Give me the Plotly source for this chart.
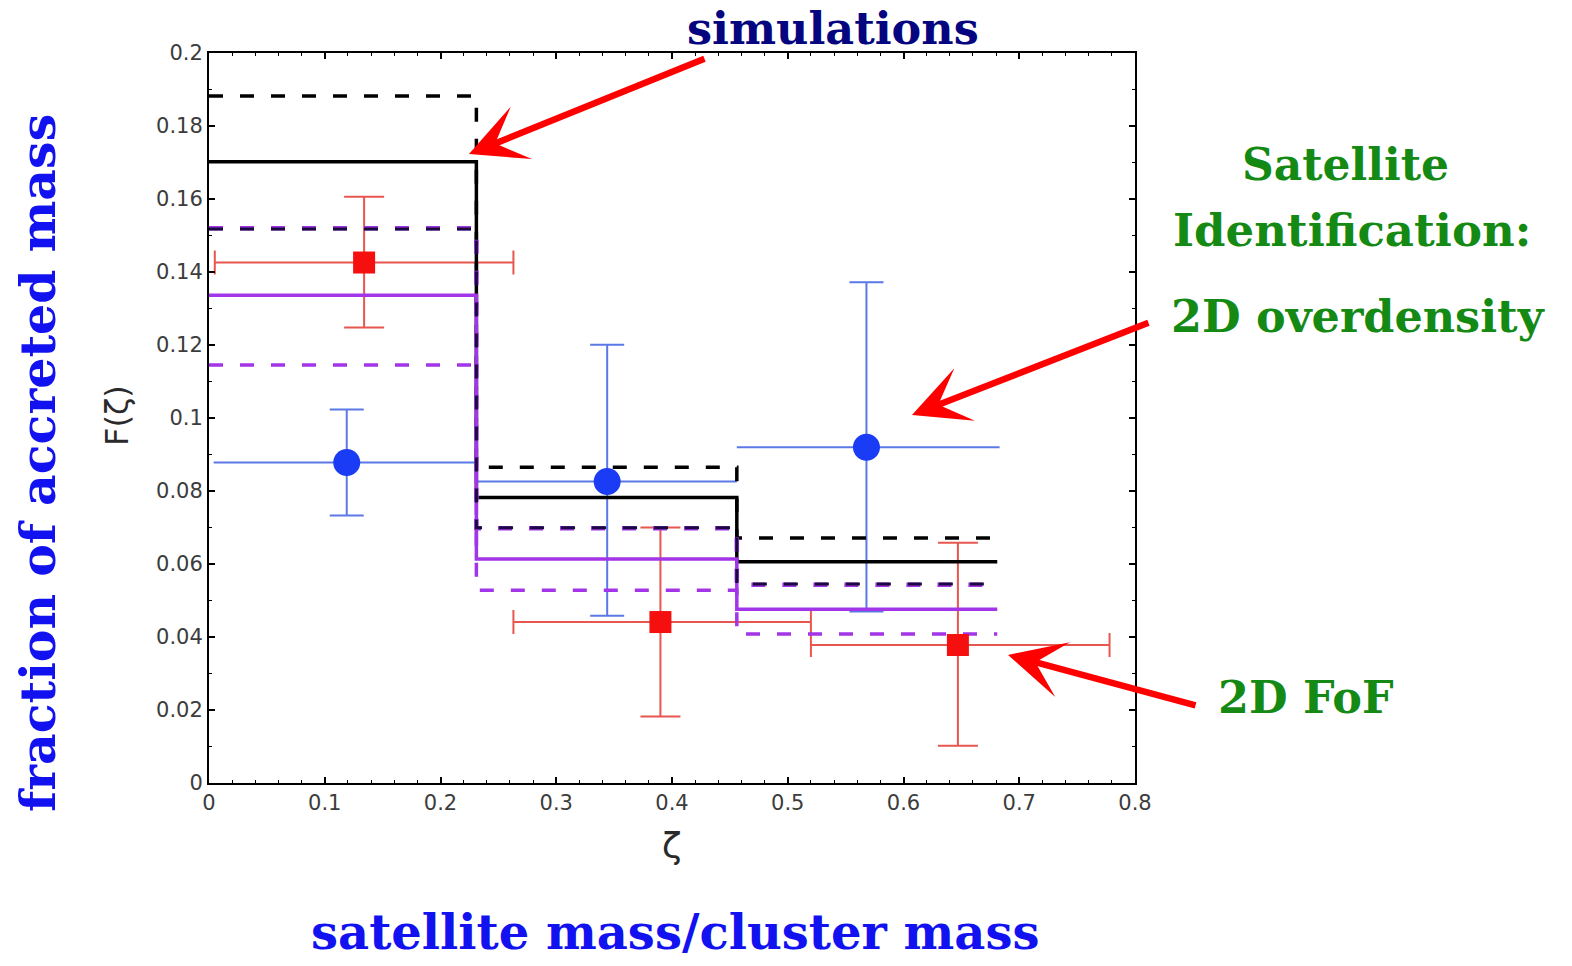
import plotly.graph_objects as go

# Bin edges in zeta (satellite mass / cluster mass)
bin_edges = [0.0, 0.231, 0.456, 0.681]

# Simulation histograms (black: mean, upper, lower)
sim_mean = [0.1702, 0.0782, 0.0606]
sim_upper = [0.1882, 0.0865, 0.0671]
sim_lower = [0.1518, 0.0699, 0.0545]

# Projected simulation histograms (purple: mean, upper, lower)
proj_mean = [0.1336, 0.0614, 0.0476]
proj_upper = [0.1520, 0.0698, 0.0543]
proj_lower = [0.1145, 0.0528, 0.0408]

# 2D overdensity identification (blue circles)
od_x = [0.119, 0.344, 0.568]
od_y = [0.0878, 0.0826, 0.0920]
od_y_hi = [0.1023, 0.1201, 0.1372]
od_y_lo = [0.0733, 0.0458, 0.0470]
od_x_lo = [0.004, 0.231, 0.456]
od_x_hi = [0.231, 0.456, 0.683]

# 2D FoF identification (red squares)
fof_x = [0.134, 0.390, 0.647]
fof_y = [0.1426, 0.0441, 0.0378]
fof_y_hi = [0.1606, 0.0700, 0.0658]
fof_y_lo = [0.1248, 0.0182, 0.0102]
fof_x_lo = [0.005, 0.263, 0.520]
fof_x_hi = [0.263, 0.520, 0.778]

x_ticks = [0, 0.1, 0.2, 0.3, 0.4, 0.5, 0.6, 0.7, 0.8]
x_ticktext = ["0", "0.1", "0.2", "0.3", "0.4", "0.5", "0.6", "0.7", "0.8"]
y_ticks = [0, 0.02, 0.04, 0.06, 0.08, 0.1, 0.12, 0.14, 0.16, 0.18, 0.2]
y_ticktext = ["0", "0.02", "0.04", "0.06", "0.08", "0.1", "0.12", "0.14", "0.16", "0.18", "0.2"]

BLACK = "#000000"
PURPLE = "#a235e8"
BLUE_ERR = "#5b78e6"
BLUE_PT = "#1a3cf5"
RED_ERR = "#e8574f"
RED_PT = "#f50f0f"
DASH = "14px,17px"

fig = go.Figure()


def err(center, lo, hi):
    plus = [h - c for c, h in zip(center, hi)]
    minus = [c - l for c, l in zip(center, lo)]
    return plus, minus


# error bars first (drawn beneath the histogram lines)
for xs, ys, xlo, xhi, ylo, yhi, col, capy, capx in [
    (od_x, od_y, od_x_lo, od_x_hi, od_y_lo, od_y_hi, BLUE_ERR, 17, 0),
    (fof_x, fof_y, fof_x_lo, fof_x_hi, fof_y_lo, fof_y_hi, RED_ERR, 20, 12),
]:
    ex_p, ex_m = err(xs, xlo, xhi)
    ey_p, ey_m = err(ys, ylo, yhi)
    fig.add_trace(go.Scatter(
        x=xs, y=ys, mode="markers",
        marker=dict(size=1, color="rgba(0,0,0,0)"),
        error_x=dict(type="data", symmetric=False, array=ex_p, arrayminus=ex_m,
                     color=col, thickness=2, width=capx),
        error_y=dict(type="data", symmetric=False, array=ey_p, arrayminus=ey_m,
                     color=col, thickness=2, width=capy),
        showlegend=False, hoverinfo="skip",
    ))


def step(vals, color, width, dash=None):
    xs = list(bin_edges)
    ys = list(vals) + [vals[-1]]
    fig.add_trace(go.Scatter(
        x=xs, y=ys, mode="lines", line_shape="hv",
        line=dict(color=color, width=width, dash=dash if dash else "solid"),
        showlegend=False, hoverinfo="skip",
    ))


step(sim_mean, BLACK, 3.5)
step(sim_upper, BLACK, 3.5, DASH)
step(proj_mean, PURPLE, 3.5)
step(proj_lower, PURPLE, 3.5, DASH)
step(proj_upper, PURPLE, 4.5, DASH)
step(sim_lower, "#1a0a40", 3, DASH)

# data points on top
fig.add_trace(go.Scatter(
    x=od_x, y=od_y, mode="markers",
    marker=dict(symbol="circle", size=27, color=BLUE_PT, line=dict(width=0)),
    showlegend=False, hoverinfo="skip",
))
fig.add_trace(go.Scatter(
    x=fof_x, y=fof_y, mode="markers",
    marker=dict(symbol="square", size=22, color=RED_PT, line=dict(width=0)),
    showlegend=False, hoverinfo="skip",
))

axis_common = dict(
    showgrid=False, zeroline=False,
    showline=True, linecolor="black", linewidth=2, mirror="ticks",
    ticks="inside", ticklen=6, tickwidth=1.5, tickcolor="black",
    tickfont=dict(family="DejaVu Sans", size=21, color="#3c3c3c"),
)

fig.update_xaxes(
    range=[0, 0.8], tickvals=x_ticks, ticktext=x_ticktext,
    minor=dict(dtick=0.02, ticks="inside", ticklen=3, tickwidth=1, tickcolor="black"),
    **axis_common,
)
fig.update_yaxes(
    range=[0, 0.2], tickvals=y_ticks, ticktext=y_ticktext,
    minor=dict(dtick=0.01, ticks="inside", ticklen=3, tickwidth=1, tickcolor="black"),
    **axis_common,
)

serif = "DejaVu Serif"
GREEN = "#148a14"
annotations = [
    dict(text="F(ζ)", x=-0.0994, y=0.5041, textangle=-90,
         font=dict(family="DejaVu Sans", size=32, color="#2a2a2a")),
    dict(text="ζ", x=0.500, y=-0.085,
         font=dict(family="DejaVu Sans", size=36, color="#2a2a2a")),
    dict(text="<b>simulations</b>", x=0.6739, y=1.034,
         font=dict(family=serif, size=44.5, color="#05057f")),
    dict(text="<b>fraction of accreted mass</b>", x=-0.1847, y=0.4384, textangle=-90,
         font=dict(family=serif, size=49, color="#1212f0")),
    dict(text="<b>satellite mass/cluster mass</b>", x=0.5032, y=-0.2045,
         font=dict(family=serif, size=48, color="#1212f0")),
    dict(text="<b>Satellite</b>", x=1.2268, y=0.8466,
         font=dict(family=serif, size=44, color=GREEN)),
    dict(text="<b>Identification:</b>", x=1.2343, y=0.7575,
         font=dict(family=serif, size=45, color=GREEN)),
    dict(text="<b>2D overdensity</b>", x=1.2408, y=0.6397,
         font=dict(family=serif, size=44.5, color=GREEN)),
    dict(text="<b>2D FoF</b>", x=1.1836, y=0.1178,
         font=dict(family=serif, size=44.5, color=GREEN)),
]
for a in annotations:
    fig.add_annotation(xref="paper", yref="paper", xanchor="center", yanchor="middle",
                       showarrow=False, **a)

# red pointer arrows
arrows = [
    (0.2246, 0.1723, 237, -96),
    (0.6073, 0.1008, 238, -93),
    (0.6903, 0.0351, 189, 51),
]
for tx, ty, dx, dy in arrows:
    fig.add_annotation(
        x=tx, y=ty, xref="x", yref="y", axref="pixel", ayref="pixel",
        ax=dx, ay=dy, text="", showarrow=True,
        arrowhead=3, arrowsize=1.45, arrowwidth=6.5, arrowcolor="#ff0000",
        standoff=0, startstandoff=0,
    )

fig.update_layout(
    width=1572, height=966,
    margin=dict(l=209, r=437, t=53, b=183),
    paper_bgcolor="white", plot_bgcolor="white",
    showlegend=False,
)

fig.write_html("out.html")
